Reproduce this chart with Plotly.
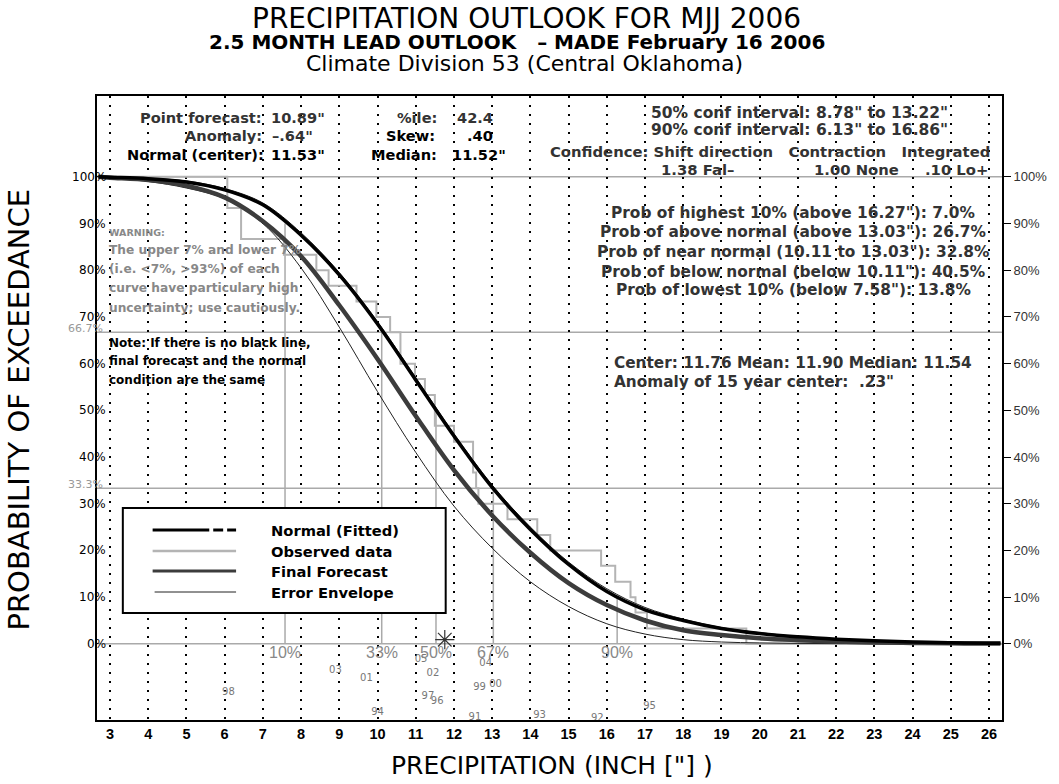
import plotly.graph_objects as go

# ---------------- data ----------------
curve_x = [2.7, 3, 4, 5, 6, 7, 8, 9, 10, 11, 12, 13, 14, 15, 16, 17, 18, 19, 20, 21, 22, 23, 24, 25, 26, 26.3]
normal_p = [100, 99.9, 99.6, 98.9, 97.2, 94.0, 87.5, 79.0, 68.5, 56.5, 44.5, 33.5, 24.5, 17.0, 11.2, 7.3,
            5.0, 3.3, 2.2, 1.5, 1.0, 0.65, 0.4, 0.25, 0.15, 0.12]
forecast_p = [100, 99.8, 99.3, 98.1, 95.6, 90.5, 83.0, 72.5, 61.0, 48.8, 37.2, 27.5, 19.5, 13.0, 8.3, 5.0,
              2.9, 1.9, 1.2, 0.8, 0.5, 0.3, 0.2, 0.12, 0.08, 0.06]
env_low_p = [99.9, 99.7, 99.0, 97.6, 95.3, 90.0, 80.5, 67.8, 54.0, 41.0, 29.5, 20.5, 13.3, 8.0, 4.3, 2.1,
             0.9, 0.4, 0.2, 0.1, 0.05, 0.03, 0.02, 0.01, 0.01, 0.01]
env_high_p = [100, 99.9, 99.7, 99.1, 97.5, 94.4, 88.0, 79.5, 69.0, 57.0, 45.0, 34.0, 25.0, 17.5, 11.8, 7.8,
              5.3, 3.5, 2.4, 1.6, 1.1, 0.7, 0.45, 0.3, 0.2, 0.15]

obs_x = [2.66, 6.07, 6.43, 7.55, 8.40, 8.72, 9.45, 9.97, 10.33, 10.60, 10.98, 11.24, 11.50, 12.00, 12.50,
         12.58, 12.64, 13.40, 14.18, 14.52, 15.85, 16.22, 16.62, 16.75, 17.05, 19.65, 26.34]
obs_p = [100, 93.3, 86.7, 83.3, 80.0, 76.7, 73.3, 70.0, 66.7, 60.0, 56.7, 53.3, 46.7, 43.3, 36.7,
         33.3, 30.0, 26.7, 23.3, 20.0, 16.7, 13.3, 10.0, 6.7, 3.3, 0, 0]

pct_x = [7.58, 10.11, 11.53, 13.03, 16.27]
pct_level = [90, 67, 50, 33, 10]
pct_labels = ["10%", "33%", "50%", "67%", "90%"]

ref_lines = [100, 66.7, 33.3, 0]
ref_labels = {66.7: "66.7%", 33.3: "33.3%"}

years = ["98", "03", "01", "94", "05", "02", "97", "96", "99", "00", "04", "91", "93", "92", "95"]
year_x = [6.1, 8.9, 9.71, 10.0, 11.14, 11.45, 11.32, 11.56, 12.67, 13.09, 12.83, 12.55, 14.24, 15.75, 17.12]
year_y = [-10.5, -5.6, -7.5, -14.6, -3.4, -6.4, -11.3, -12.4, -9.4, -8.6, -4.3, -15.8, -15.4, -16.0, -13.5]

center_x = 11.76
x_ticks = list(range(3, 27))
y_ticks = list(range(0, 101, 10))

# ---------------- geometry helpers (pixel -> paper) ----------------
L, R, T, B = 97, 1008, 96, 720
def PX(px):
    return (px - L) / (R - L)
def PY(py):
    return (B - py) / (B - T)

NB = "\u00a0"
ann = []
def txt(s, px, py, size=14, color="#333", anchor="left", bold=True, family="DejaVu Sans", angle=0):
    s = s.replace("  ", NB + NB)
    ann.append(dict(text=s, x=PX(px), y=PY(py), xref="paper", yref="paper", xanchor=anchor,
                    yanchor="middle", showarrow=False, textangle=angle,
                    font=dict(family=family, size=size, color=color,
                              weight="bold" if bold else "normal")))

fig = go.Figure()

# percentile verticals (to fitted normal)
for xv, lv in zip(pct_x, pct_level):
    fig.add_trace(go.Scatter(x=[xv, xv], y=[0, lv], mode="lines",
                             line=dict(color="#aaaaaa", width=1.5), hoverinfo="skip"))

fig.add_trace(go.Scatter(x=obs_x, y=obs_p, mode="lines", line=dict(color="#b4b4b4", width=2, shape="hv"),
                         name="Observed data"))
fig.add_trace(go.Scatter(x=curve_x, y=env_low_p, mode="lines",
                         line=dict(color="#222", width=1, shape="spline", smoothing=1.0), name="Error Envelope"))
fig.add_trace(go.Scatter(x=curve_x, y=env_high_p, mode="lines",
                         line=dict(color="#222", width=1, shape="spline", smoothing=1.0), name="Error Envelope"))
fig.add_trace(go.Scatter(x=curve_x, y=forecast_p, mode="lines",
                         line=dict(color="#3c3c3c", width=4.5, shape="spline", smoothing=1.0), name="Final Forecast"))
fig.add_trace(go.Scatter(x=curve_x, y=normal_p, mode="lines",
                         line=dict(color="#000000", width=3.5, shape="spline", smoothing=1.0), name="Normal (Fitted)"))

fig.add_trace(go.Scatter(x=year_x, y=year_y, text=years, mode="text",
                         textfont=dict(family="DejaVu Sans", size=10, color="#777")))
fig.add_trace(go.Scatter(x=[center_x], y=[0.9], mode="markers",
                         marker=dict(symbol="asterisk-open", size=16, color="#333",
                                     line=dict(color="#333", width=1.2))))
# invisible trace for the right axis
fig.add_trace(go.Scatter(x=[3], y=[0], yaxis="y2", mode="markers", marker=dict(opacity=0), hoverinfo="skip"))

shapes = []
for v in ref_lines:
    shapes.append(dict(type="line", xref="paper", x0=0, x1=1, yref="y", y0=v, y1=v,
                       line=dict(color="#aaaaaa", width=1.5), layer="below"))

# legend box
shapes.append(dict(type="rect", xref="paper", yref="paper", x0=PX(123), x1=PX(448), y0=PY(613), y1=PY(508),
                   line=dict(color="black", width=2), fillcolor="white", layer="above"))
rows = [530, 551, 571, 592]
def seg(x0, x1, py, color, width):
    shapes.append(dict(type="line", xref="paper", yref="paper", x0=PX(x0), x1=PX(x1), y0=PY(py), y1=PY(py),
                       line=dict(color=color, width=width), layer="above"))
seg(153, 210, rows[0], "black", 3)
seg(214, 224, rows[0], "black", 3)
seg(228, 237, rows[0], "black", 3)
seg(153, 237, rows[1], "#b4b4b4", 2.5)
seg(153, 237, rows[2], "#3c3c3c", 3)
seg(155, 237, rows[3], "#222", 1)
for t, py in zip(["Normal (Fitted)", "Observed data", "Final Forecast", "Error Envelope"], rows):
    txt(t, 270, py, size=14.7, color="black")

# titles
txt("PRECIPITATION OUTLOOK FOR MJJ 2006", 529, 18, size=28, color="black", anchor="center", bold=False)
txt("2.5 MONTH LEAD OUTLOOK   \u2013 MADE February 16 2006", 520, 42, size=20, color="black", anchor="center")
txt("Climate Division 53 (Central Oklahoma)", 527, 64, size=22, color="black", anchor="center", bold=False)
txt("PROBABILITY OF EXCEEDANCE", 18, 410, size=29, color="black", anchor="center", bold=False, angle=-90)
txt("PRECIPITATION (INCH [\"] )", 555, 765, size=25, color="black", anchor="center", bold=False)

# top-left stats
S = 14.6
txt("Point forecast:", 265, 117, size=S, color="#333", anchor="right")
txt("10.89\"", 270, 117, size=S, color="#333")
txt("Anomaly:", 265, 135, size=S, color="#333", anchor="right")
txt("\u2013.64\"", 271, 135, size=S, color="#333")
txt("Normal (center):", 267, 154, size=S, color="black", anchor="right")
txt("11.53\"", 270, 154, size=S, color="black")
txt("%ile:", 441, 117, size=S, color="#333", anchor="right")
txt("42.4", 457, 117, size=S, color="#333")
txt("Skew:", 439, 135, size=S, color="black", anchor="right")
txt(".40", 467, 135, size=S, color="black")
txt("Median:", 441, 154, size=S, color="black", anchor="right")
txt("11.52\"", 452, 154, size=S, color="black")

# top-right stats
txt("50% conf interval: 8.78\" to 13.22\"", 653, 113, size=15.5, color="#333")
txt("90% conf interval: 6.13\" to 16.86\"", 653, 130, size=15.5, color="#333")
txt("Confidence: Shift direction   Contraction   Integrated", 998, 151, size=14.8, color="#333", anchor="right")
txt("1.38 Fal\u2013", 663, 169, size=14.8, color="#333")
txt("1.00 None", 817, 169, size=14.8, color="#333")
txt(".10 Lo+", 928, 169, size=14.8, color="#333")

probs = ["Prob of highest 10% (above 16.27\"): 7.0%",
         "Prob of above normal (above 13.03\"): 26.7%",
         "Prob of near normal (10.11 to 13.03\"): 32.8%",
         "Prob of below normal (below 10.11\"): 40.5%",
         "Prob of lowest 10% (below 7.58\"): 13.8%"]
for s, py in zip(probs, [213, 232, 252, 272, 290]):
    txt(s, 798, py, size=15.4, color="#333", anchor="center")

txt("Center: 11.76 Mean: 11.90 Median: 11.54", 615, 363, size=15.3, color="#333")
txt("Anomaly of 15 year center:  .23\"", 615, 382, size=15.3, color="#333")

# warning / note
txt("WARNING:", 107, 232, size=9.5, color="#888")
for s, py in zip(["The upper 7% and lower 7%", "(i.e. &lt;7%, &gt;93%) of each",
                  "curve have particulary high", "uncertainty; use cautiously."], [250, 269, 288, 308]):
    txt(s, 107, py, size=12.2, color="#888")
for s, py in zip(["Note: If there is no black line,", "final forecast and the normal",
                  "condition are the same"], [343, 361, 380]):
    txt(s, 107, py, size=12, color="black")

# left tick labels
for v in y_ticks:
    ann.append(dict(text=f"{v}%", x=PX(108), y=v, xref="paper", yref="y", xanchor="right", yanchor="middle",
                    showarrow=False, font=dict(family="DejaVu Sans", size=12, color="black")))
for v, s in ref_labels.items():
    ann.append(dict(text=s, x=PX(105), y=v + 0.8, xref="paper", yref="y", xanchor="right", yanchor="middle",
                    showarrow=False, font=dict(family="DejaVu Sans", size=11, color="#999")))
# percentile labels
for xv, s in zip(pct_x, pct_labels):
    ann.append(dict(text=s, x=xv, y=-1.8, xref="x", yref="y", xanchor="center", yanchor="middle",
                    showarrow=False, font=dict(family="Liberation Sans", size=16, color="#888")))

fig.update_layout(
    width=1059, height=784,
    margin=dict(l=L, r=1059 - R, t=T, b=784 - B),
    plot_bgcolor="white", paper_bgcolor="white", showlegend=False,
    xaxis=dict(range=[2.66, 26.34], tickvals=x_ticks, ticktext=[str(v) for v in x_ticks],
               showgrid=True, gridcolor="black", gridwidth=1.5, griddash="2px,7px",
               showline=True, mirror=True, linecolor="black", linewidth=2, zeroline=False, ticks="",
               tickfont=dict(family="Liberation Sans", size=14.5, color="black", weight="bold")),
    yaxis=dict(range=[-16.3, 117.3], showgrid=False, showticklabels=False, zeroline=False,
               showline=True, mirror=True, linecolor="black", linewidth=2, ticks=""),
    yaxis2=dict(range=[-16.3, 117.3], overlaying="y", side="right", tickvals=y_ticks,
                ticktext=[f"{v}%" for v in y_ticks], ticks="outside", ticklen=8, tickwidth=1,
                tickcolor="black", showgrid=False, zeroline=False, showline=False,
                tickfont=dict(family="Liberation Sans", size=13, color="#333")),
    shapes=shapes, annotations=ann,
)

fig.write_html("out.html", config={"displayModeBar": False},
               post_script="document.body.style.margin='0';document.body.style.overflow='hidden';")
